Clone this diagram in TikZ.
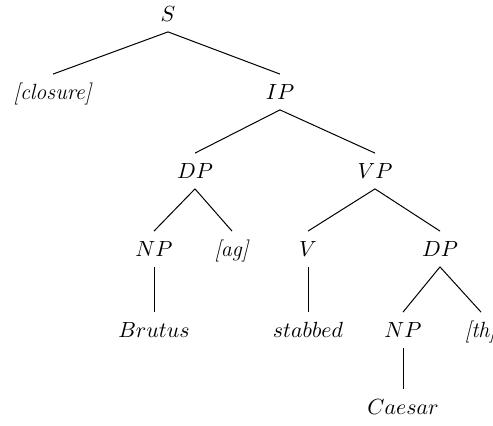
\documentclass[tikz,border=0pt]{standalone}
\usepackage{amsmath}
\usepackage{tikz}
\usetikzlibrary{positioning}
\tikzstyle{cat}=[font=\fontsize{11}{13}\selectfont, inner xsep=2pt, inner ysep=5pt, text height=7.5pt, text depth=0pt]
\tikzstyle{branch}=[line width=0.5pt]

\begin{document}
\begin{tikzpicture}[x=0.5pt, y=-0.5pt]
	\useasboundingbox (0,0) rectangle (493,426);
	\clip (0,0) rectangle (493,426);
	\node (S) [cat] at (168,14) {$S$};
	\path (S) + (-115,78) node (closure) [cat] {\textit{[closure]}};
	\path (S) + (112,78) node (IP) [cat] {$IP$};
	\path (IP) + (-85,79) node (DPa) [cat] {$DP$};
	\path (IP) + (95,79) node (VP) [cat] {$VP$};
	\path (DPa) + (-41,78) node (NPa) [cat] {$NP$};
	\path (DPa) + (37,78) node (ag) [cat] {\textit{[ag]}};
	\path (VP) + (-67,78) node (V) [cat] {$V$};
	\path (VP) + (65,78) node (DPb) [cat] {$DP$};
	\path (NPa) + (0,81) node (Brutus) [cat] {$Brutus$};
	\path (V) + (0,81) node (stabbed) [cat] {$stabbed$};
	\path (DPb) + (-37,81) node (NPb) [cat] {$NP$};
	\path (DPb) + (41,81) node (th) [cat] {\textit{[th]}};
	\path (NPb) + (0,77) node (Caesar) [cat] {$Caesar$};
	\draw [branch] (S.south) -- (closure.north);
	\draw [branch] (S.south) -- (IP.north);
	\draw [branch] (IP.south) -- (DPa.north);
	\draw [branch] (IP.south) -- (VP.north);
	\draw [branch] (DPa.south) -- (NPa.north);
	\draw [branch] (DPa.south) -- (ag.north);
	\draw [branch] (VP.south) -- (V.north);
	\draw [branch] (VP.south) -- (DPb.north);
	\draw [branch] (NPa.south) -- (Brutus.north);
	\draw [branch] (V.south) -- (stabbed.north);
	\draw [branch] (DPb.south) -- (NPb.north);
	\draw [branch] (DPb.south) -- (th.north);
	\draw [branch] (NPb.south) -- (Caesar.north);
\end{tikzpicture}
\end{document}
